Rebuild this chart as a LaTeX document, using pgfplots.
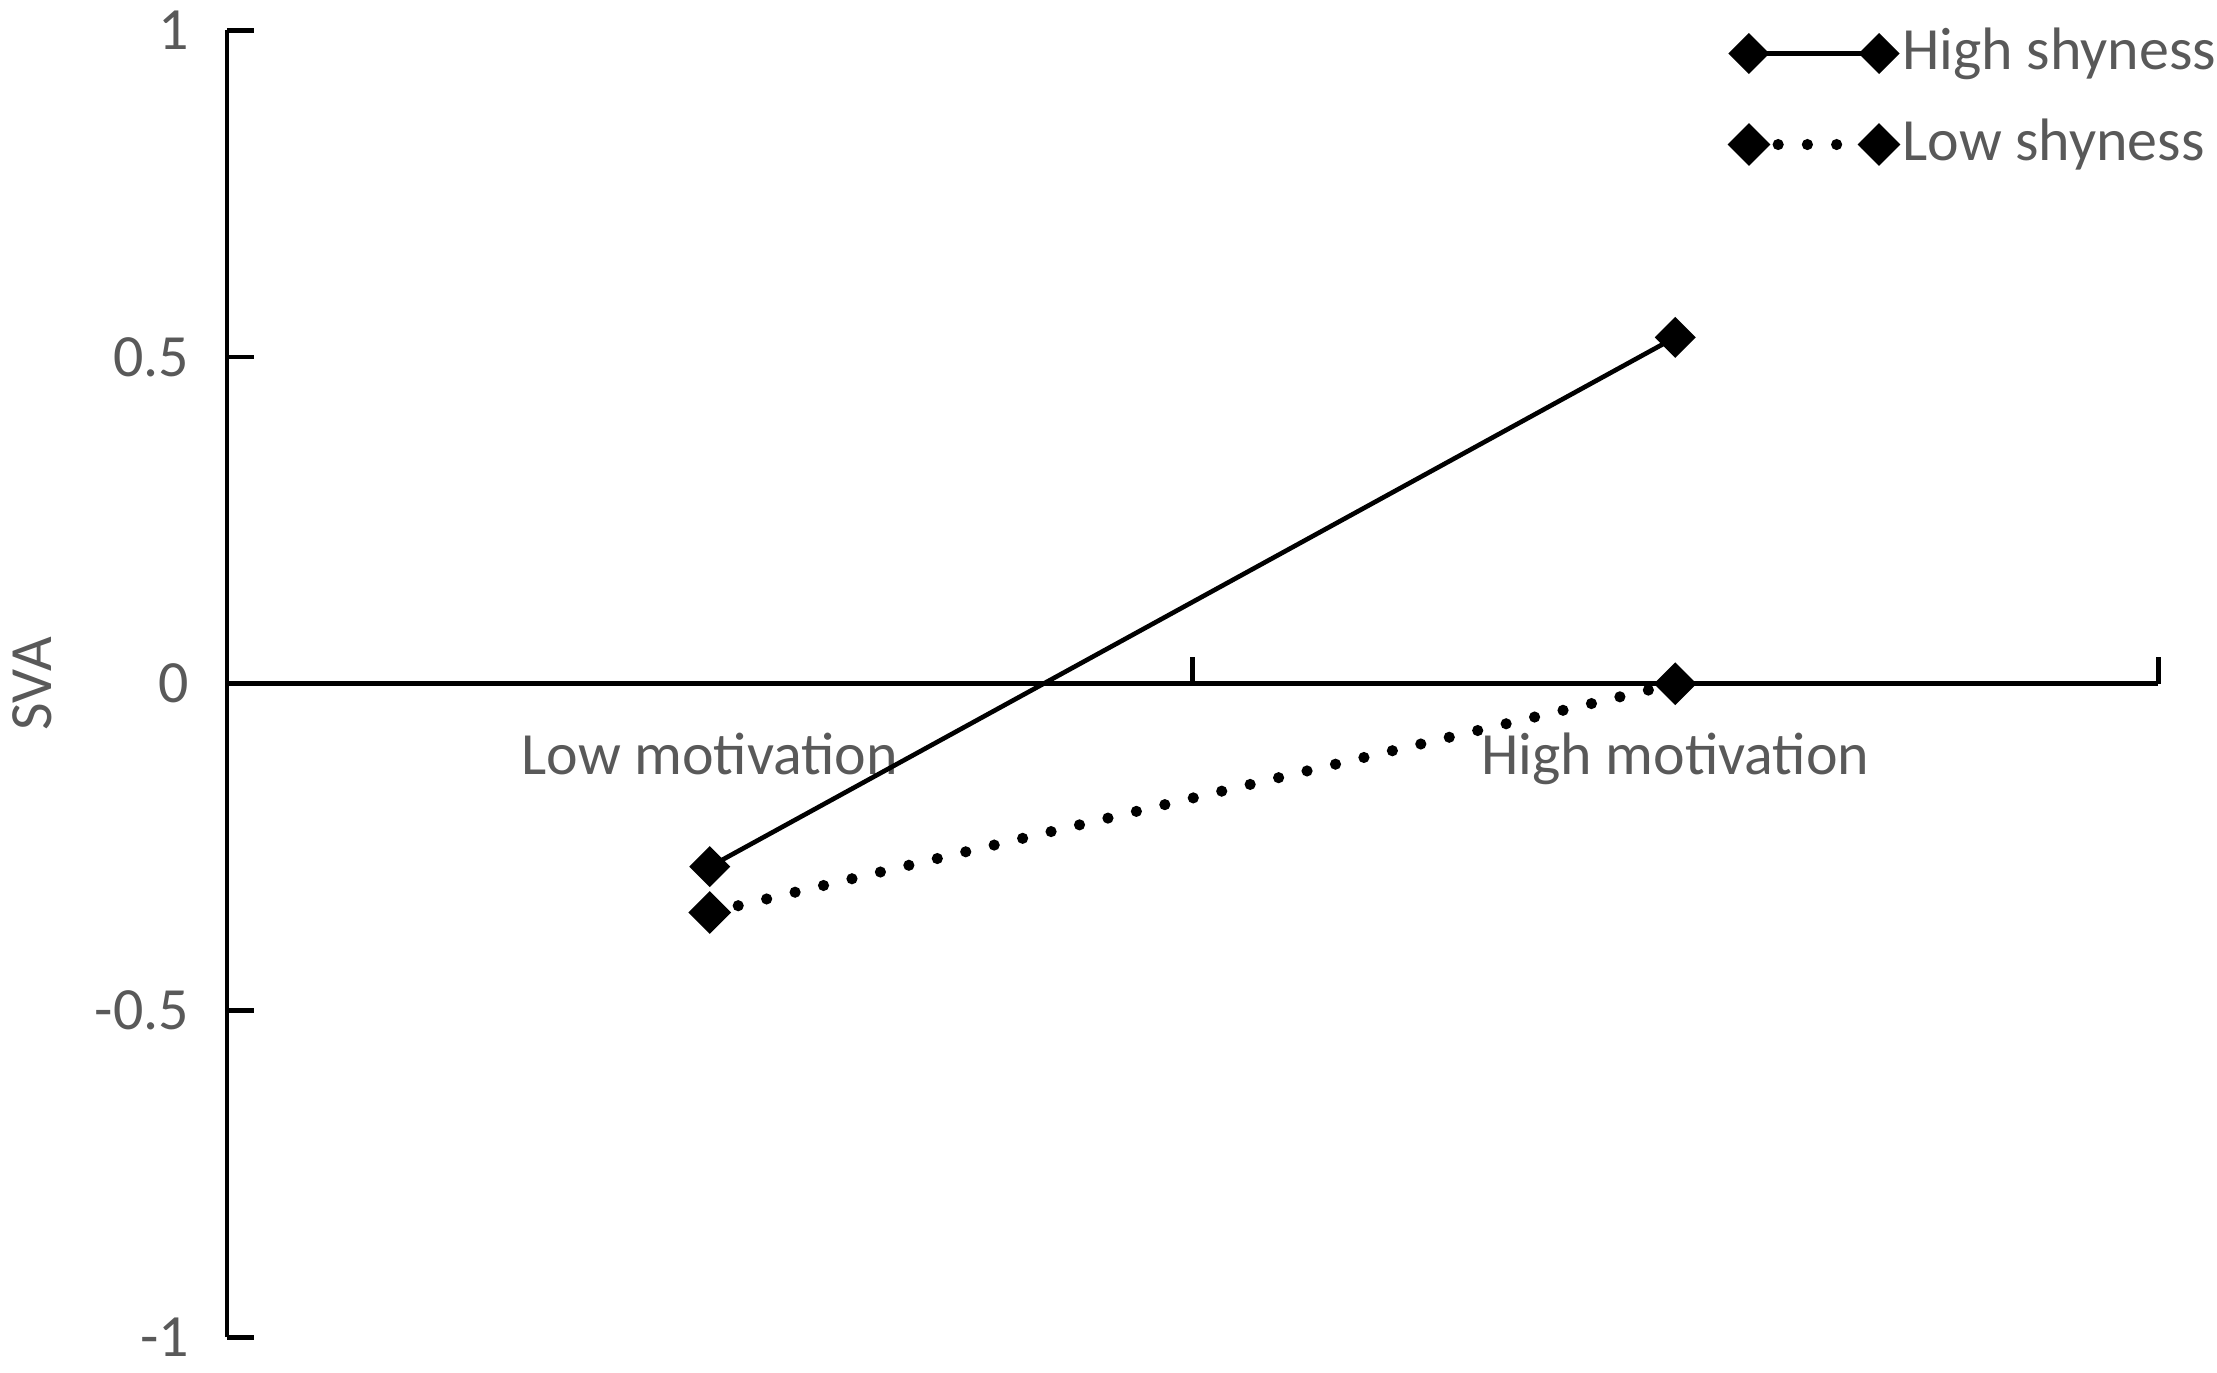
\documentclass[border=0pt]{standalone}
\usepackage{fontspec}
\setmainfont{Carlito}
\usepackage{pgfplots}
\pgfplotsset{compat=1.18}
\definecolor{txt}{HTML}{595959}

\begin{document}
\fontsize{12.3}{14}\selectfont
\begin{tikzpicture}
\path[use as bounding box] (-46.6pt,-7.2pt) rectangle (408.5pt,274.5pt);
\begin{axis}[
  at={(0pt,0pt)}, anchor=south west,
  scale only axis,
  width=396.4pt, height=268.3pt,
  xmin=0, xmax=2, ymin=-1, ymax=1,
  axis x line=middle, axis y line=left,
  axis line style={black, line width=1pt, -},
  tick align=inside,
  major tick length=5.5pt,
  tick style={black, line width=1pt},
  xtick={0,1,2}, xticklabels={,,},
  extra x ticks={0.5,1.5},
  extra x tick labels={Low motivation,High motivation},
  extra x tick style={major tick length=0pt, xticklabel style={anchor=base, yshift=-18.7pt}},
  ytick={-1,-0.5,0,0.5,1},
  yticklabels={-1,-0.5,0,0.5,1},
  yticklabel style={xshift=-3.5pt},
  tick label style={text=txt},
  ylabel={SVA},
  ylabel style={at={(axis description cs:-0.101,0.5)}, anchor=center, text=txt},
  legend style={at={(axis description cs:0.778,1.006)}, anchor=north west,
    draw=none, fill=none, inner sep=0pt, row sep=6.3pt,
    nodes={text=txt, inner sep=1pt}, cells={anchor=west}},
  legend image code/.code={\draw[#1] plot coordinates {(0pt,0pt) (26.7pt,0pt)};},
  clip=false,
]
\addplot[black, line width=0.95pt, mark=square*, mark size=2.5pt,
  mark options={solid, rotate=45}] coordinates {(0.5,-0.28) (1.5,0.53)};
\addlegendentry{High shyness}
\addplot[black, line width=2.3pt, line cap=round, dash pattern=on 0pt off 6pt,
  mark=square*, mark size=2.7pt,
  mark options={solid, rotate=45, line width=0.8pt}] coordinates {(0.5,-0.35) (1.5,0.0)};
\addlegendentry{Low shyness}
\end{axis}
\end{tikzpicture}
\end{document}
